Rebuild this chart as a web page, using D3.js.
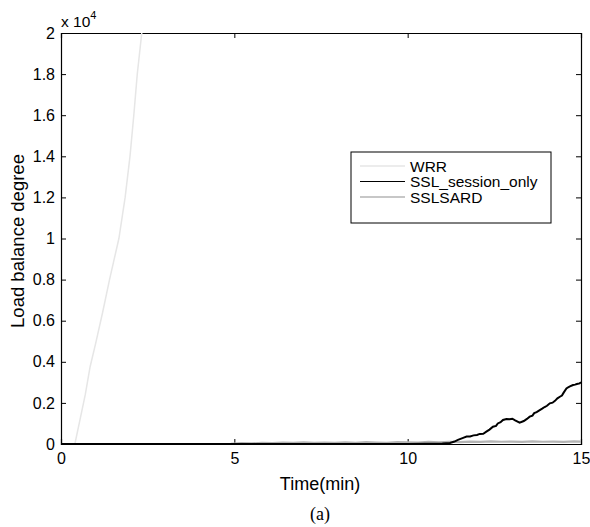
<!DOCTYPE html>
<html>
<head>
<meta charset="utf-8">
<script src="https://cdn.jsdelivr.net/npm/d3@7"></script>
<style>
  body { margin: 0; background: #fff; }
  svg text { font-family: "Liberation Sans", Arial, sans-serif; }
</style>
</head>
<body>
<div id="chart"></div>
<script>
// data (y in units of 10^4)
const xTicks = [0, 5, 10, 15];
const yTicks = [0, 0.2, 0.4, 0.6, 0.8, 1, 1.2, 1.4, 1.6, 1.8, 2];

const wrrTime = [0, 0.2, 0.40, 0.55, 0.70, 0.84, 1.0, 1.2, 1.4, 1.67, 1.85, 1.99, 2.1, 2.2, 2.33, 2.45];
const wrrLoad = [0, 0, 0, 0.12, 0.24, 0.376, 0.49, 0.64, 0.80, 1.0, 1.2, 1.4, 1.6, 1.8, 2.0, 2.2];

const sslTime = [0, 5, 10, 11.0, 11.22, 11.35, 11.45, 11.6, 11.7, 11.8, 11.9, 12.0, 12.08, 12.18, 12.27, 12.36, 12.46, 12.55, 12.6, 12.68, 12.75, 12.85, 12.94, 13.02, 13.1, 13.23, 13.35, 13.44, 13.52, 13.6, 13.65, 13.72, 13.81, 13.88, 13.95, 14.02, 14.1, 14.18, 14.25, 14.32, 14.39, 14.45, 14.5, 14.58, 14.63, 14.68, 14.77, 14.83, 14.88, 14.96, 15];
const sslLoad = [0, 0, 0, 0.002, 0.005, 0.012, 0.02, 0.03, 0.036, 0.037, 0.042, 0.044, 0.049, 0.05, 0.06, 0.07, 0.084, 0.088, 0.1, 0.106, 0.117, 0.122, 0.12, 0.123, 0.115, 0.104, 0.112, 0.122, 0.133, 0.138, 0.15, 0.155, 0.165, 0.172, 0.18, 0.186, 0.198, 0.201, 0.21, 0.222, 0.23, 0.236, 0.25, 0.27, 0.276, 0.28, 0.287, 0.289, 0.292, 0.295, 0.30];

const sardTime = [0, 2, 4, 4.9, 5.2, 5.5, 5.8, 6.1, 6.4, 6.7, 7.0, 7.3, 7.6, 7.9, 8.2, 8.5, 8.8, 9.1, 9.4, 9.7, 10.0, 10.3, 10.6, 10.9, 11.2, 11.5, 11.8, 12.1, 12.4, 12.7, 13.0, 13.3, 13.6, 13.9, 14.2, 14.5, 14.8, 15];
const sardLoad = [0, 0, 0, 0.001, 0.004, 0.003, 0.006, 0.004, 0.007, 0.005, 0.008, 0.006, 0.007, 0.005, 0.008, 0.006, 0.009, 0.007, 0.006, 0.009, 0.008, 0.007, 0.010, 0.008, 0.011, 0.009, 0.012, 0.010, 0.013, 0.011, 0.012, 0.010, 0.013, 0.011, 0.012, 0.010, 0.013, 0.012];

const seriesNames = ["WRR", "SSL_session_only", "SSLSARD"];
const seriesColors = ["#e6e6e6", "#000000", "#b4b4b4"];

const W = 590, H = 527;
const margin = { top: 33, right: 9, bottom: 83, left: 61 };
const width = W - margin.left - margin.right;
const height = H - margin.top - margin.bottom;

const svg = d3.select("#chart").append("svg")
  .attr("width", W).attr("height", H);

const g = svg.append("g")
  .attr("transform", `translate(${margin.left},${margin.top})`);

const x = d3.scaleLinear().domain([0, 15]).range([0, width]);
const y = d3.scaleLinear().domain([0, 2]).range([height, 0]);

// clip
svg.append("defs").append("clipPath").attr("id", "clip")
  .append("rect").attr("width", width).attr("height", height);

// axes with inward ticks (matlab box style)
const axB = g.append("g").attr("transform", `translate(0,${height})`)
  .call(d3.axisBottom(x).tickValues(xTicks).tickSize(-5).tickPadding(9).tickFormat(d3.format("d")));
const axT = g.append("g")
  .call(d3.axisTop(x).tickValues(xTicks).tickSize(-5).tickFormat(""));
const axL = g.append("g")
  .call(d3.axisLeft(y).tickValues(yTicks).tickSize(-5).tickPadding(6).tickFormat(d => d));
const axR = g.append("g").attr("transform", `translate(${width},0)`)
  .call(d3.axisRight(y).tickValues(yTicks).tickSize(-5).tickFormat(""));

[axB, axT, axL, axR].forEach(a => {
  a.select(".domain").attr("stroke", "#000").attr("stroke-width", 1.2);
  a.selectAll(".tick line").attr("stroke", "#000");
  a.selectAll("text").style("font-size", "16px").attr("fill", "#000")
    .style("font-family", "Liberation Sans, Arial, sans-serif");
});

// lines
const line = d3.line().x(d => x(d[0])).y(d => y(d[1]));
const plot = g.append("g").attr("clip-path", "url(#clip)");
const series = [
  d3.zip(wrrTime, wrrLoad),
  d3.zip(sslTime, sslLoad),
  d3.zip(sardTime, sardLoad)
];
const widths = [1.5, 2, 2.2];
[2, 0, 1].forEach(i => {
  plot.append("path").datum(series[i])
    .attr("fill", "none")
    .attr("stroke", seriesColors[i])
    .attr("stroke-width", widths[i])
    .attr("d", line);
});

// exponent label
const expT = svg.append("text").attr("x", 61).attr("y", 27)
  .style("font-size", "15.5px");
expT.append("tspan").text("x 10");
expT.append("tspan").attr("dy", -8).style("font-size", "11px").text("4");

// axis titles
svg.append("text")
  .attr("transform", `translate(24,241) rotate(-90)`)
  .attr("text-anchor", "middle")
  .style("font-size", "18.5px")
  .text("Load balance degree");

svg.append("text")
  .attr("x", 320).attr("y", 490)
  .attr("text-anchor", "middle")
  .style("font-size", "18px")
  .text("Time(min)");

svg.append("text")
  .attr("x", 320).attr("y", 520)
  .attr("text-anchor", "middle")
  .style("font-family", "Liberation Serif, Times New Roman, serif")
  .style("font-size", "18px")
  .text("(a)");

// legend
const lg = svg.append("g").attr("transform", "translate(351,152)");
lg.append("rect").attr("width", 200).attr("height", 71)
  .attr("fill", "#fff").attr("stroke", "#000").attr("stroke-width", 1);
seriesNames.forEach((name, i) => {
  const yy = 14 + i * 15.5;
  lg.append("line").attr("x1", 9).attr("x2", 54).attr("y1", yy).attr("y2", yy)
    .attr("stroke", seriesColors[i]).attr("stroke-width", i === 1 ? 1.2 : 1.5);
  lg.append("text").attr("x", 59).attr("y", yy + 5.5)
    .style("font-size", "15.5px").text(name);
});
</script>
</body>
</html>
